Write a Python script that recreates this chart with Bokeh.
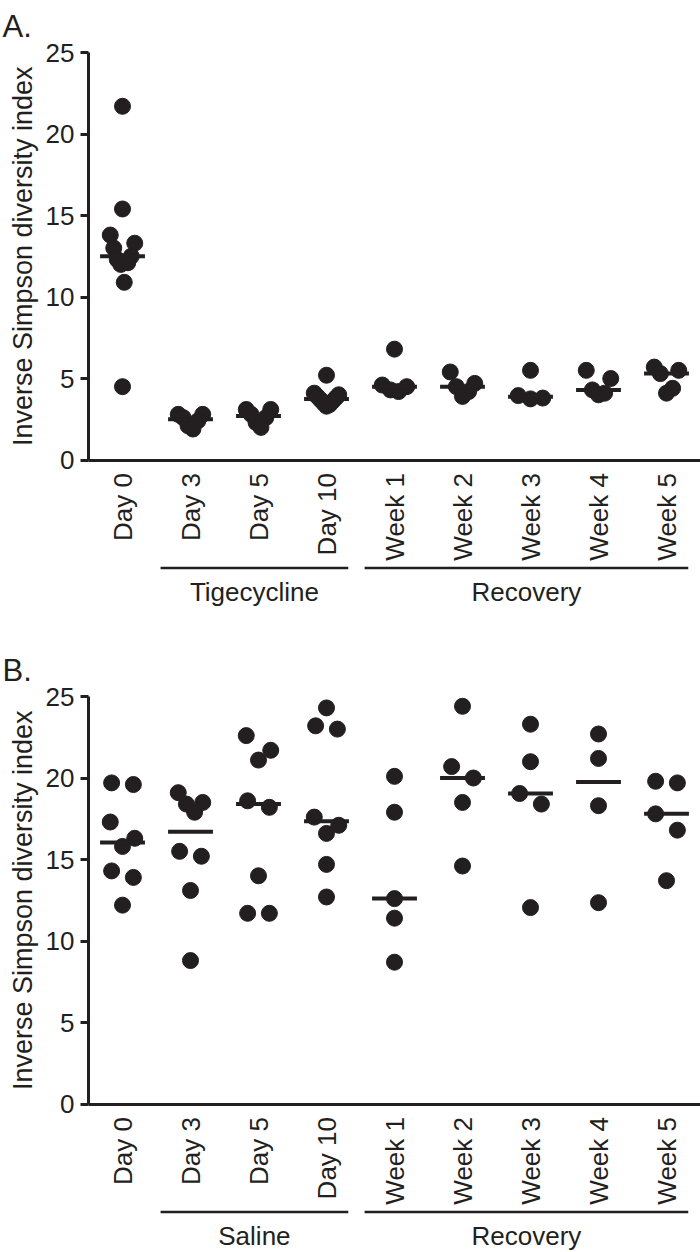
import numpy as np
from bokeh.plotting import figure
from bokeh.layouts import column
from bokeh.models import Range1d, FixedTicker
from bokeh.embed import file_html
from bokeh.resources import INLINE
from bokeh.core.properties import value

# ---------------- data ----------------
categories = ["Day 0", "Day 3", "Day 5", "Day 10", "Week 1", "Week 2", "Week 3", "Week 4", "Week 5"]
y_ticks = [0, 5, 10, 15, 20, 25]

# Panel A (tigecycline)
a_day0 = [21.7, 15.4, 13.8, 13.3, 13.0, 12.5, 12.3, 12.1, 12.0, 10.9, 4.5]
a_day3 = [2.8, 2.8, 2.6, 2.4, 2.1, 1.9]
a_day5 = [3.1, 3.1, 2.8, 2.6, 2.3, 2.0]
a_day10 = [5.2, 4.1, 4.0, 3.9, 3.8, 3.7, 3.6, 3.5, 3.4, 3.3]
a_week1 = [6.8, 4.6, 4.5, 4.3, 4.2]
a_week2 = [5.4, 4.7, 4.5, 4.2, 3.9]
a_week3 = [5.5, 3.95, 3.8, 3.75]
a_week4 = [5.5, 5.0, 4.3, 4.1, 4.0]
a_week5 = [5.7, 5.5, 5.3, 4.4, 4.1]
panel_a = [a_day0, a_day3, a_day5, a_day10, a_week1, a_week2, a_week3, a_week4, a_week5]
groups_a = [("Tigecycline", 1, 3), ("Recovery", 4, 8)]

# Panel B (saline)
b_day0 = [19.7, 19.6, 17.3, 16.3, 15.8, 14.3, 13.9, 12.2]
b_day3 = [19.1, 18.5, 18.4, 17.9, 15.5, 15.2, 13.1, 8.8]
b_day5 = [22.6, 21.7, 21.1, 18.6, 18.2, 14.0, 11.7, 11.7]
b_day10 = [24.3, 23.2, 23.0, 17.6, 17.1, 16.6, 14.7, 12.7]
b_week1 = [20.1, 17.9, 12.6, 11.4, 8.7]
b_week2 = [24.4, 20.7, 20.0, 18.5, 14.6]
b_week3 = [23.3, 21.0, 19.05, 18.4, 12.05]
b_week4 = [22.7, 21.2, 18.3, 12.35]
b_week5 = [19.8, 19.7, 17.8, 16.8, 13.7]
panel_b = [b_day0, b_day3, b_day5, b_day10, b_week1, b_week2, b_week3, b_week4, b_week5]
groups_b = [("Saline", 1, 3), ("Recovery", 4, 8)]

# ---------------- layout / style ----------------
FONT = "Liberation Sans"
INK = "#231f20"
PX_X = 68.0     # px per category
PX_Y = 16.3     # px per y unit
WIDTH = 700
LEFT_PAD = 88   # px from figure left edge to x = -0.5


def swarm_offsets(vals, thr=1.1, step=0.32, max_half=0.18):
    """Deterministic symmetric dot-plot spreading of overlapping points."""
    vals = np.asarray(vals, float)
    order = np.argsort(vals, kind="stable")
    offs = np.zeros(len(vals))
    groups, cur = [], [order[0]]
    for k in order[1:]:
        if vals[k] - vals[cur[-1]] < thr:
            cur.append(k)
        else:
            groups.append(cur)
            cur = [k]
    groups.append(cur)
    for g in groups:
        n = len(g)
        if n == 1:
            continue
        s = min(step, 2 * max_half / (n - 1))
        if n % 2:
            slots = [0] + [sg * j for j in range(1, n // 2 + 1) for sg in (1, -1)]
        else:
            slots = [sg * (j - 0.5) for j in range(1, n // 2 + 1) for sg in (1, -1)]
        for k, sl in zip(g, slots):
            offs[k] = sl * s
    return offs


def make_panel(letter, data, groups, height, top_pad):
    xl = -0.5 - LEFT_PAD / PX_X
    xr = xl + WIDTH / PX_X
    yt = 25 + top_pad / PX_Y
    yb = yt - height / PX_Y
    p = figure(width=WIDTH, height=height, x_range=Range1d(xl, xr), y_range=Range1d(yb, yt),
               output_backend="svg", toolbar_location=None,
               min_border=0, min_border_left=0, min_border_right=0,
               min_border_top=0, min_border_bottom=0)
    p.outline_line_color = None
    p.grid.visible = False
    p.background_fill_color = "white"
    p.border_fill_color = "white"

    # x axis at y = 0
    xa = p.xaxis[0]
    xa.fixed_location = 0
    xa.bounds = (-0.5, xr)
    xa.ticker = FixedTicker(ticks=list(range(len(categories))))
    xa.major_label_overrides = {i: c for i, c in enumerate(categories)}
    xa.major_label_orientation = np.pi / 2
    xa.major_tick_line_color = None
    xa.minor_tick_line_color = None
    xa.axis_line_width = 3
    xa.axis_line_color = INK
    xa.major_label_text_font = FONT
    xa.major_label_text_font_size = "26px"
    xa.major_label_text_color = INK
    xa.major_label_standoff = 7

    # y axis at x = -0.5
    ya = p.yaxis[0]
    ya.fixed_location = -0.5
    ya.bounds = (0, 25)
    ya.ticker = FixedTicker(ticks=y_ticks)
    ya.major_tick_out = 8
    ya.major_tick_in = 0
    ya.major_tick_line_width = 3
    ya.major_tick_line_color = INK
    ya.minor_tick_line_color = None
    ya.axis_line_width = 3
    ya.axis_line_color = INK
    ya.major_label_text_font = FONT
    ya.major_label_text_font_size = "26px"
    ya.major_label_text_color = INK
    ya.major_label_standoff = 6

    # y axis title
    p.text(x=[(22 - LEFT_PAD) / PX_X - 0.5], y=[12.5], text=["Inverse Simpson diversity index"],
           angle=np.pi / 2, text_align="center", text_baseline="middle",
           text_font=value(FONT), text_font_size="27px", text_color=INK)

    # panel letter (top edge 44 px above the top tick)
    p.text(x=[xl + 2 / PX_X], y=[25 + 44 / PX_Y], text=[letter], text_align="left",
           text_baseline="top", text_font=value(FONT), text_font_size="31px", text_color=INK)

    # points and medians
    xs, ys, mx0, mx1, my = [], [], [], [], []
    for i, vals in enumerate(data):
        off = swarm_offsets(vals)
        xs.extend(i + off)
        ys.extend(vals)
        m = float(np.median(vals))
        mx0.append(i - 0.33)
        mx1.append(i + 0.33)
        my.append(m)
    p.scatter(xs, ys, size=16, color=INK, line_color=INK)
    p.segment(x0=mx0, x1=mx1, y0=my, y1=my, line_width=4, color=INK)

    # treatment group brackets
    gx0 = [g[1] - 0.44 for g in groups]
    gx1 = [g[2] + 0.32 for g in groups]
    gy = [-6.62] * len(groups)
    p.segment(x0=gx0, x1=gx1, y0=gy, y1=gy, line_width=2.5, color=INK)
    p.text(x=[(a + b) / 2 for a, b in zip(gx0, gx1)], y=[-8.1] * len(groups),
           text=[g[0] for g in groups], text_align="center", text_baseline="middle",
           text_font=value(FONT), text_font_size="26px", text_color=INK)
    return p


pa = make_panel("A.", panel_a, groups_a, 608, 52)
pb = make_panel("B.", panel_b, groups_b, 644, 88)

layout = column(pa, pb, spacing=0)
open("out.html", "w").write(file_html(layout, INLINE))
